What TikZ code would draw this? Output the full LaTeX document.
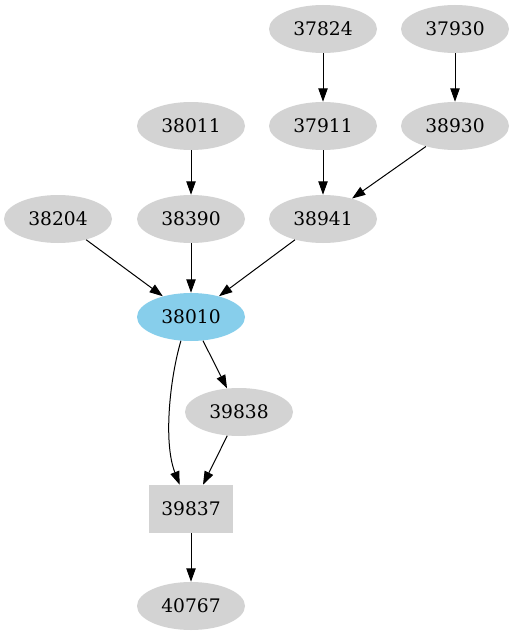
\documentclass[tikz,border=0pt]{standalone}
\usepackage{fontspec}
\setmainfont{DejaVu Serif}
\usetikzlibrary{arrows.meta,calc,shapes.geometric}
\definecolor{nodegray}{RGB}{211,211,211}
\definecolor{skyblue}{RGB}{135,206,235}
\begin{document}
\begin{tikzpicture}[x=0.75pt,y=-0.75pt,
  ell/.style={ellipse,fill=nodegray,minimum width=81pt,minimum height=36pt,inner sep=0pt,font=\fontsize{14pt}{16pt}\selectfont},
  boxn/.style={rectangle,fill=nodegray,minimum width=63pt,minimum height=36pt,inner sep=0pt,font=\fontsize{14pt}{16pt}\selectfont},
  edge/.style={draw=black,line width=0.75pt,-{Triangle[length=10pt,width=7pt]}}]
\useasboundingbox (0,0) rectangle (514,635);
\node[ell] (n37824) at (323,29) {37824};
\node[ell] (n37930) at (455,29) {37930};
\node[ell] (n38011) at (191,126) {38011};
\node[ell] (n37911) at (323,126) {37911};
\node[ell] (n38930) at (455,126) {38930};
\node[ell] (n38204) at (58,219) {38204};
\node[ell] (n38390) at (191,219) {38390};
\node[ell] (n38941) at (323,219) {38941};
\node[ell,fill=skyblue] (n38010) at (191,317) {38010};
\node[ell] (n39838) at (239,412) {39838};
\node[boxn] (n39837) at (191,509) {39837};
\node[ell] (n40767) at (191,606) {40767};
\draw[edge] (n37824) -- (n37911);
\draw[edge] (n37930) -- (n38930);
\draw[edge] (n38011) -- (n38390);
\draw[edge] (n37911) -- (n38941);
\draw[edge] (n38930) -- (n38941);
\draw[edge] (n38204) -- (n38010);
\draw[edge] (n38390) -- (n38010);
\draw[edge] (n38941) -- (n38010);
\draw[edge] (n38010) -- (n39838);
\draw[edge] (n39838) -- (n39837);
\draw[edge] (n38010.247) .. controls (170,378) and (163,442) .. ($(n39837.north)+(-8.5pt,0)$);
\draw[edge] (n39837) -- (n40767);
\end{tikzpicture}
\end{document}
